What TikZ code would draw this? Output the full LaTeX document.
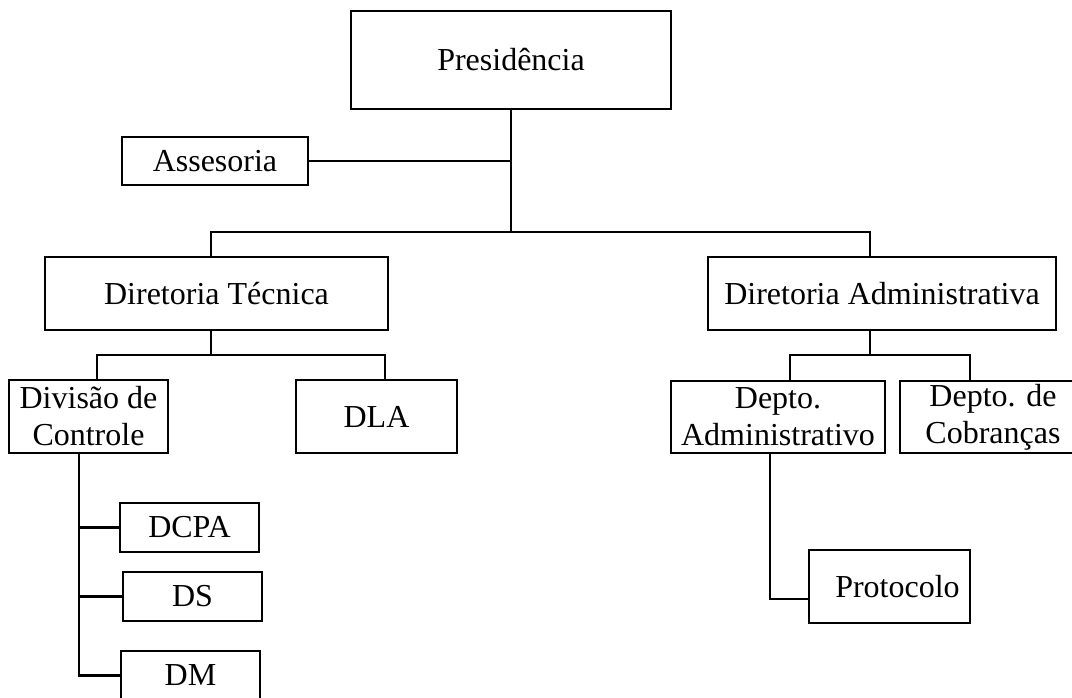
\documentclass[tikz,border=0pt]{standalone}
\usepackage{fontspec}
\setmainfont{Liberation Serif}
\begin{document}
\begin{tikzpicture}[x=1pt,y=-1pt,
  box/.style={draw, line width=2.8pt, inner sep=0pt, align=center,
    font=\fontsize{32}{37}\selectfont},
  link/.style={line width=2.8pt}]
\clip (0,0) rectangle (1072,697);
\fill[white] (0,0) rectangle (1072,697);

% units
\node[box, minimum width=320pt, minimum height=98pt] (pres) at (511,60) {Presidência};
\node[box, minimum width=186pt, minimum height=48pt] (asse) at (215,161) {Assesoria};
\node[box, minimum width=343pt, minimum height=73pt] (dtec) at (216.5,293.5) {Diretoria Técnica};
\node[box, minimum width=348pt, minimum height=73pt] (dadm) at (882,293.5) {Diretoria Administrativa};
\node[box, minimum width=159pt, minimum height=73pt] (divc) at (88.5,416.5) {Divisão de\\Controle};
\node[box, minimum width=161pt, minimum height=73pt] (dla) at (376.5,416.5) {DLA};
\node[box, minimum width=214pt, minimum height=72pt] (depa) at (778,417) {Depto.\\Administrativo};
\node[box, minimum width=174pt, minimum height=72pt] (depc) at (987,417) {\hspace*{12pt}Depto. de\\\hspace*{12pt}Cobranças};
\node[box, minimum width=139pt, minimum height=49pt] (dcpa) at (189.5,527.5) {DCPA};
\node[box, minimum width=139pt, minimum height=49pt] (ds) at (192.5,596.5) {DS};
\node[box, minimum width=139pt, minimum height=49pt] (dm) at (190.5,675.5) {DM};
\node[box, minimum width=161pt, minimum height=73pt] (prot) at (889.5,586.5) {\hspace*{16pt}Protocolo};

% junction points
\coordinate (bl) at (211,232);
\coordinate (br) at (870,232);
\coordinate (tl) at (97,355);
\coordinate (tr) at (385,355);
\coordinate (al) at (790,355);
\coordinate (ar) at (970,355);
\coordinate (sv) at (79,0);
\coordinate (pc) at (770,599);

% top level
\draw[link] (pres.south) -- (pres.south |- bl);
\draw[link] (asse.east) -- (asse.east -| pres.south);
\draw[link] (dtec.north -| bl) -- (bl) -- (br) -- (dadm.north -| br);

% technical branch
\draw[link] (dtec.south -| bl) -- (bl |- tl);
\draw[link] (divc.north -| tl) -- (tl) -- (tr) -- (dla.north -| tr);
\draw[link] (divc.south -| sv) -- (dm.west -| sv) -- (dm.west);
\draw[link] (dcpa.west -| sv) -- (dcpa.west);
\draw[link] (ds.west -| sv) -- (ds.west);

% administrative branch
\draw[link] (dadm.south -| br) -- (br |- al);
\draw[link] (depa.north -| al) -- (al) -- (ar) -- (depc.north -| ar);
\draw[link] (depa.south -| pc) -- (pc) -- (pc -| prot.west);
\end{tikzpicture}
\end{document}
